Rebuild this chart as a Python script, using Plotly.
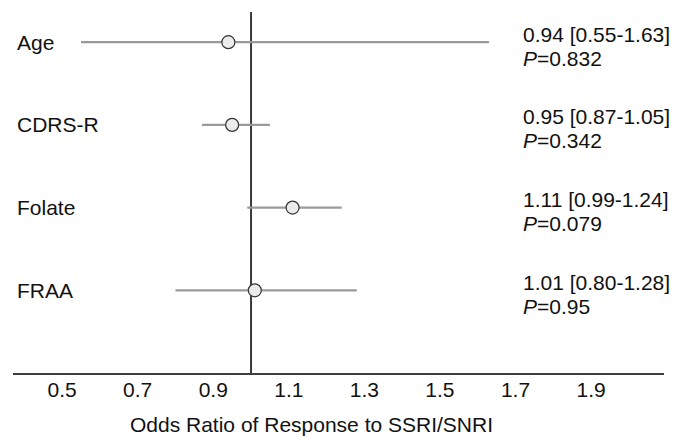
import plotly.graph_objects as go

# ---- data ----
variables = ["Age", "CDRS-R", "Folate", "FRAA"]
odds_ratio = [0.94, 0.95, 1.11, 1.01]
ci_low = [0.55, 0.87, 0.99, 0.80]
ci_high = [1.63, 1.05, 1.24, 1.28]
p_values = ["0.832", "0.342", "0.079", "0.95"]
row_pos = [4, 3, 2, 1]
tick_values = [0.5, 0.7, 0.9, 1.1, 1.3, 1.5, 1.7, 1.9]
tick_labels = ["0.5", "0.7", "0.9", "1.1", "1.3", "1.5", "1.7", "1.9"]
x_title = "Odds Ratio of Response to SSRI/SNRI"

FONT = "Liberation Sans, Arial, sans-serif"
FS = 21

err_plus = [h - o for h, o in zip(ci_high, odds_ratio)]
err_minus = [o - l for o, l in zip(odds_ratio, ci_low)]

fig = go.Figure()
fig.add_trace(go.Scatter(
    x=odds_ratio, y=row_pos, mode="markers",
    marker=dict(symbol="circle", size=13, color="#ebebeb",
                line=dict(color="#333333", width=1.2)),
    error_x=dict(type="data", symmetric=False, array=err_plus,
                 arrayminus=err_minus, width=0, color="#9a9a9a", thickness=2.2),
    showlegend=False, hoverinfo="skip",
))

# reference line at OR = 1
fig.add_shape(type="line", xref="x", yref="paper", x0=1, x1=1, y0=0, y1=1,
              line=dict(color="#3a3a3a", width=2), layer="below")

annotations = []
for name, y in zip(variables, row_pos):
    annotations.append(dict(x=0.003, xref="paper", y=y, yref="y", text=name,
                            showarrow=False, xanchor="left", yanchor="middle",
                            font=dict(family=FONT, size=FS, color="#111111")))
for o, l, h, p, y in zip(odds_ratio, ci_low, ci_high, p_values, row_pos):
    annotations.append(dict(x=1.0, xref="paper", y=y, yref="y",
                            text=f"{o:.2f} [{l:.2f}-{h:.2f}]",
                            showarrow=False, xanchor="left", yanchor="middle",
                            xshift=-143, yshift=8,
                            font=dict(family=FONT, size=FS, color="#111111")))
    annotations.append(dict(x=1.0, xref="paper", y=y, yref="y",
                            text=f"<i>P</i>=" + p,
                            showarrow=False, xanchor="left", yanchor="middle",
                            xshift=-143, yshift=-16,
                            font=dict(family=FONT, size=FS, color="#111111")))
annotations.append(dict(x=0.459, xref="paper", y=-0.144, yref="paper",
                        text=x_title, showarrow=False,
                        xanchor="center", yanchor="middle",
                        font=dict(family=FONT, size=FS, color="#111111")))

# page body has an 8px default margin, so the figure is drawn 8px smaller
fig.update_layout(
    width=678, height=429,
    margin=dict(l=5, r=22, t=4, b=64),
    paper_bgcolor="white", plot_bgcolor="white",
    annotations=annotations,
    xaxis=dict(range=[0.370, 2.093], tickvals=tick_values, ticktext=tick_labels,
               showgrid=False, zeroline=False, showline=True,
               linecolor="#3f3f3f", linewidth=2, ticks="",
               tickfont=dict(family=FONT, size=FS, color="#111111"),
               ticklabelstandoff=-3),
    yaxis=dict(range=[0, 4.365], showgrid=False, zeroline=False,
               showline=False, showticklabels=False, ticks=""),
)

fig.write_html("out.html")
